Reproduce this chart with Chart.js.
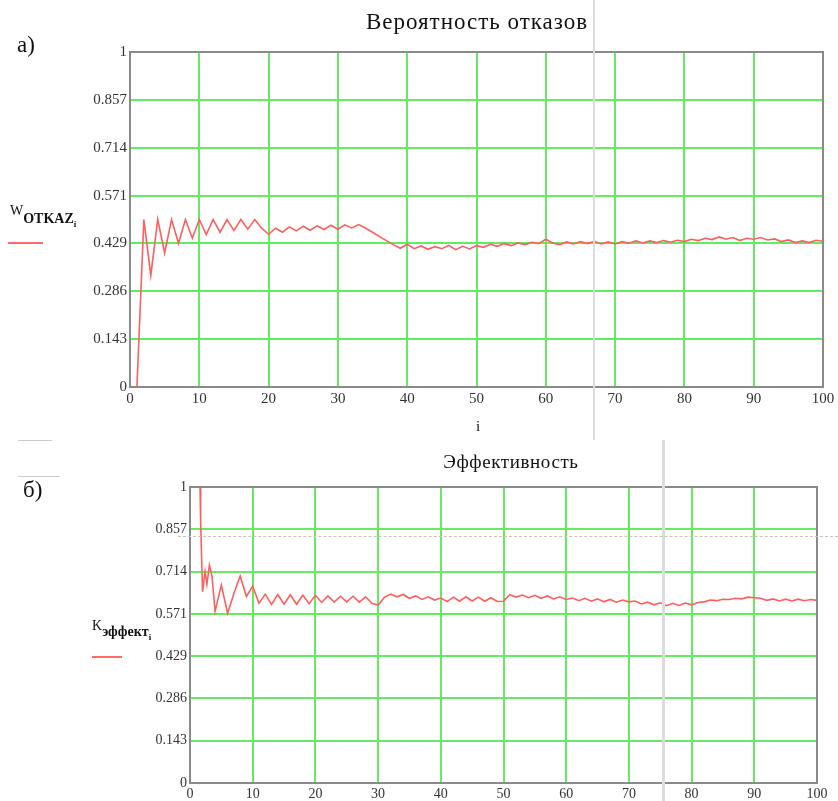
<!DOCTYPE html>
<html lang="ru">
<head>
<meta charset="UTF-8">
<title>Вероятность отказов и эффективность</title>
<script src="https://cdn.jsdelivr.net/npm/chart.js@4.4.0/dist/chart.umd.min.js"></script>
<style>
body{margin:0;background:#fff;}
#page{position:relative;width:838px;height:801px;font-family:"Liberation Serif","DejaVu Serif",serif;color:#111;overflow:hidden;}
canvas{position:absolute;left:0;}
.t{position:absolute;white-space:nowrap;}
.leg{position:absolute;height:2px;background:#ff6b6b;}
.scan{position:absolute;background:#dcdcdc;}
</style>
</head>
<body>
<div id="page">
  <canvas id="chartTop" width="838" height="420" style="top:0"></canvas>
  <canvas id="chartBottom" width="838" height="381" style="top:420px"></canvas>

  <!-- faint marks left on the scanned original -->
  <div class="scan" style="left:593px;top:0;width:2px;height:440px;"></div>
  <div class="scan" style="left:662px;top:440px;width:3px;height:361px;"></div>
  <div class="t" style="left:178px;top:536px;width:660px;border-top:1px dashed #c4c4c4;"></div>
  <div class="scan" style="left:18px;top:440px;width:34px;height:1px;background:#ccc;"></div>
  <div class="scan" style="left:18px;top:476px;width:42px;height:1px;background:#ccc;"></div>

  <div class="t" style="left:17px;top:32px;font-size:23px;">а)</div>
  <div class="t" style="left:477px;top:9px;font-size:23px;letter-spacing:1px;transform:translateX(-50%);">Вероятность отказов</div>
  <div class="t" style="left:10px;top:203px;font-size:14px;">W<span style="position:relative;top:8px;font-weight:bold;">OTKAZ<span style="font-size:9px;position:relative;top:4px;">i</span></span></div>
  <div class="leg" style="left:8px;top:242px;width:35px;"></div>
  <div class="t" style="left:476px;top:418px;font-size:15px;">i</div>

  <div class="t" style="left:23px;top:477px;font-size:23px;">б)</div>
  <div class="t" style="left:511px;top:451px;font-size:19px;letter-spacing:0.6px;transform:translateX(-50%);">Эффективность</div>
  <div class="t" style="left:92px;top:618px;font-size:14px;">K<span style="position:relative;top:6px;font-weight:bold;">эффект<span style="font-size:9px;position:relative;top:4px;">i</span></span></div>
  <div class="leg" style="left:92px;top:656px;width:30px;"></div>
</div>

<script>
// y ticks are in steps of 1/7, as in the Mathcad plot
const yTicks = [0, 1/7, 2/7, 3/7, 4/7, 5/7, 6/7, 1];
const yTickLabels = ['0', '0.143', '0.286', '0.429', '0.571', '0.714', '0.857', '1'];

// а) failure probability, i = 1..100
const iTop = [];
for (let k = 1; k <= 100; k++) iTop.push(k);
const wOtkaz = [
  0, 0.5, 0.333, 0.5, 0.4, 0.5, 0.429, 0.5, 0.444, 0.5,
  0.455, 0.5, 0.462, 0.5, 0.467, 0.5, 0.471, 0.5, 0.474, 0.456,
  0.474, 0.462, 0.478, 0.466, 0.48, 0.468, 0.481, 0.47, 0.483, 0.471,
  0.484, 0.475, 0.485, 0.474, 0.462, 0.449, 0.437, 0.425, 0.414, 0.426,
  0.413, 0.421, 0.411, 0.419, 0.413, 0.423, 0.41, 0.42, 0.412, 0.422,
  0.417, 0.426, 0.42, 0.428, 0.422, 0.43, 0.425, 0.432, 0.428, 0.441,
  0.43, 0.425, 0.433, 0.427, 0.434, 0.428, 0.435, 0.427, 0.433, 0.427,
  0.434, 0.429, 0.436, 0.43, 0.436, 0.431, 0.437, 0.432, 0.438, 0.434,
  0.441, 0.437, 0.444, 0.44, 0.448, 0.441, 0.446, 0.437, 0.444, 0.441,
  0.446, 0.439, 0.442, 0.434, 0.439, 0.431, 0.436, 0.431, 0.438, 0.435
];

// б) efficiency; the first steps are denser in the original
const iBottom = [1.6, 1.7, 2.0, 2.4, 2.7, 3.1, 3.5, 4, 5, 6, 7, 8, 9, 10];
for (let k = 11; k <= 100; k++) iBottom.push(k);
const kEffekt = [
  1.0, 0.88, 0.646, 0.714, 0.672, 0.736, 0.70, 0.58, 0.669, 0.573, 0.64, 0.699, 0.63, 0.665,
  0.607, 0.638, 0.603, 0.637, 0.604, 0.636, 0.604, 0.635, 0.606, 0.634,
  0.61, 0.632, 0.611, 0.631, 0.612, 0.631, 0.611, 0.629, 0.607, 0.601,
  0.627, 0.638, 0.629, 0.637, 0.624, 0.632, 0.62, 0.629, 0.618, 0.625,
  0.613, 0.628, 0.614, 0.629, 0.615, 0.628, 0.614, 0.626, 0.613, 0.614,
  0.636, 0.628, 0.635, 0.626, 0.634, 0.624, 0.632, 0.622, 0.629, 0.62,
  0.625, 0.616, 0.624, 0.614, 0.622, 0.612, 0.62, 0.611, 0.618, 0.612,
  0.615, 0.605, 0.611, 0.602, 0.609, 0.599, 0.607, 0.6, 0.608, 0.602,
  0.61, 0.612, 0.618, 0.616, 0.621, 0.62, 0.624, 0.622, 0.628, 0.626,
  0.624, 0.617, 0.622, 0.615, 0.621, 0.615, 0.621, 0.616, 0.62, 0.617
];

// grey box round the plot area
const framePlugin = {
  id: 'frame',
  afterDraw(chart) {
    const a = chart.chartArea, ctx = chart.ctx;
    ctx.save();
    ctx.strokeStyle = '#8a8a8a';
    ctx.lineWidth = 2;
    ctx.strokeRect(a.left, a.top, a.right - a.left, a.bottom - a.top);
    ctx.restore();
  }
};

function makeChart(id, xs, ys, yAxisWidth, xAxisHeight, pad, fontSize) {
  const ctx = document.getElementById(id).getContext('2d');
  return new Chart(ctx, {
    type: 'line',
    data: {
      datasets: [{
        data: xs.map((x, n) => ({ x: x, y: ys[n] })),
        borderColor: 'rgb(255,95,95)',
        borderWidth: 1.6,
        pointRadius: 0,
        tension: 0,
        fill: false
      }]
    },
    options: {
      responsive: false,
      animation: false,
      devicePixelRatio: 1,
      layout: { padding: pad },
      plugins: { legend: { display: false }, tooltip: { enabled: false } },
      scales: {
        x: {
          type: 'linear', min: 0, max: 100,
          afterFit(scale) { scale.height = xAxisHeight; },
          ticks: { stepSize: 10, padding: 3, maxRotation: 0, color: '#333',
                   font: { family: 'Liberation Serif', size: fontSize } },
          grid: { color: 'rgb(100,235,100)', lineWidth: 2, drawTicks: false },
          border: { display: false }
        },
        y: {
          min: 0, max: 1,
          afterFit(scale) { scale.width = yAxisWidth; },
          afterBuildTicks(scale) { scale.ticks = yTicks.map(v => ({ value: v })); },
          ticks: { padding: 3, color: '#333',
                   font: { family: 'Liberation Serif', size: fontSize },
                   callback: (v, n) => yTickLabels[n] },
          grid: { color: 'rgb(100,235,100)', lineWidth: 2, drawTicks: false },
          border: { display: false }
        }
      }
    },
    plugins: [framePlugin]
  });
}

makeChart('chartTop', iTop, wOtkaz, 130, 33, { top: 52, right: 15, left: 0, bottom: 0 }, 15);
makeChart('chartBottom', iBottom, kEffekt, 190, 18, { top: 67, right: 21, left: 0, bottom: 0 }, 14);
</script>
</body>
</html>
